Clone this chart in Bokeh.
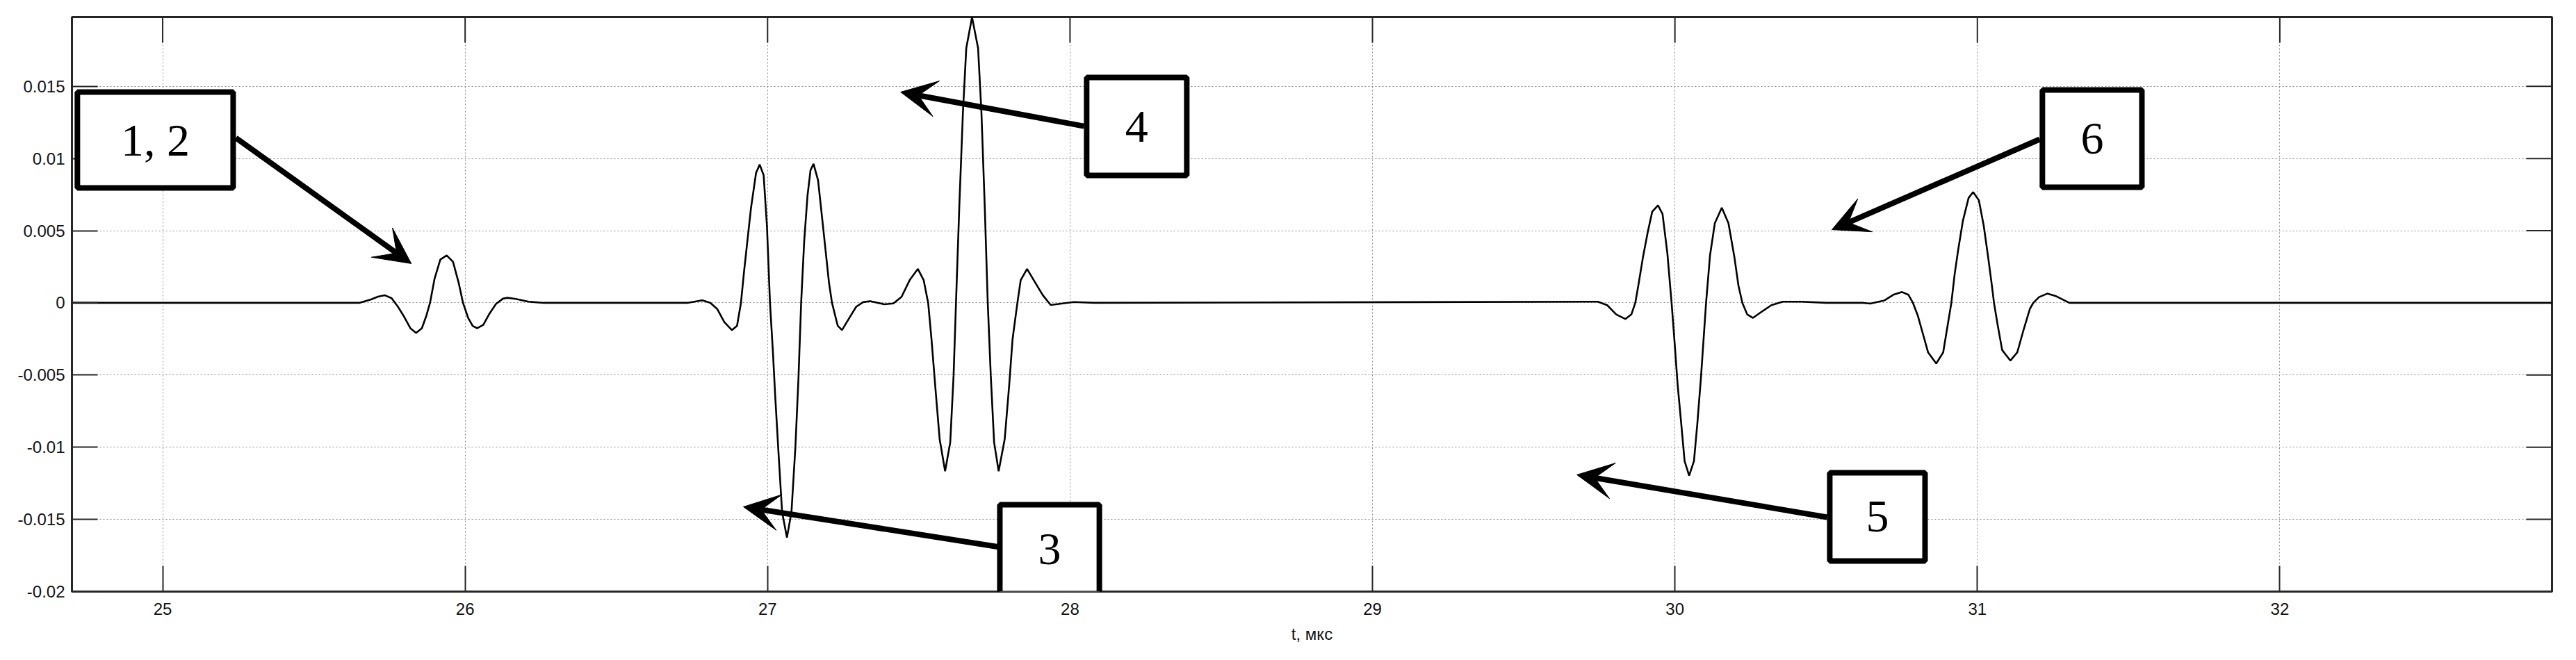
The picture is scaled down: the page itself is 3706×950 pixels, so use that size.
import math
from bokeh.plotting import figure
from bokeh.models import Range1d, FixedTicker, Arrow, VeeHead, BoxAnnotation, Label
from bokeh.core.properties import value
from bokeh.embed import file_html
from bokeh.resources import INLINE

# ---------------- data ----------------
# time, us  /  amplitude
t_edges = [24.70, 32.90]

t_p12 = [25.482, 25.650, 25.689, 25.712, 25.734, 25.757, 25.777, 25.796, 25.819, 25.838,
         25.857, 25.872, 25.884, 25.899, 25.918, 25.939, 25.960, 25.979, 25.993, 26.010,
         26.025, 26.040, 26.060, 26.079, 26.102, 26.125, 26.140, 26.167, 26.210, 26.260]
a_p12 = [0.0, 0.0, 0.00024, 0.00043, 0.00053, 0.00032, -0.00024, -0.00088, -0.00176, -0.00208,
         -0.00176, -0.00088, 0.0, 0.00168, 0.00300, 0.00329, 0.00284, 0.00136, 0.0, -0.00104,
         -0.00160, -0.00176, -0.00152, -0.00080, -0.00008, 0.00029, 0.00035, 0.00027, 0.00008, 0.0]

t_p34 = [26.735, 26.784, 26.811, 26.834, 26.857, 26.882, 26.899, 26.912, 26.922, 26.933,
         26.945, 26.962, 26.974, 26.987, 26.998, 27.008, 27.018, 27.025, 27.035, 27.048,
         27.064, 27.079, 27.092, 27.102, 27.111, 27.121, 27.132, 27.142, 27.152, 27.167,
         27.186, 27.203, 27.213, 27.232, 27.246, 27.270, 27.293, 27.316, 27.339, 27.386,
         27.416, 27.443, 27.470, 27.497, 27.516, 27.531, 27.542, 27.554, 27.569, 27.587,
         27.604, 27.615, 27.623, 27.634, 27.646, 27.657, 27.676, 27.696, 27.707, 27.718,
         27.728, 27.738, 27.749, 27.764, 27.784, 27.799, 27.810, 27.826, 27.837, 27.858,
         27.883, 27.910, 27.936, 27.967, 28.013, 28.080]
a_p34 = [0.0, 0.00018, 0.0, -0.00044, -0.00133, -0.00189, -0.00159, 0.0, 0.00212, 0.00424,
         0.00654, 0.00901, 0.00958, 0.00884, 0.00530, 0.0, -0.00353, -0.00636, -0.00998, -0.01449,
         -0.01626, -0.01449, -0.00998, -0.00530, 0.0, 0.00424, 0.00742, 0.00919, 0.00963, 0.00848,
         0.00477, 0.00141, 0.0, -0.00159, -0.00189, -0.00106, -0.00027, 0.00005, 0.00012, -0.00010,
         -0.00004, 0.00042, 0.00158, 0.00235, 0.00158, 0.0, -0.00252, -0.00567, -0.00945, -0.01166,
         -0.00966, -0.00504, 0.0, 0.00672, 0.01324, 0.01765, 0.01979, 0.01765, 0.01324, 0.00672,
         0.0, -0.00504, -0.00966, -0.01166, -0.00945, -0.00567, -0.00252, 0.0, 0.00158, 0.00235,
         0.00147, 0.00053, -0.00015, -0.00006, 0.00006, 0.0]

t_p5 = [29.745, 29.776, 29.806, 29.836, 29.856, 29.869, 29.879, 29.894, 29.910, 29.925,
        29.944, 29.959, 29.975, 29.989, 29.998, 30.009, 30.021, 30.032, 30.047, 30.063,
        30.074, 30.086, 30.103, 30.116, 30.132, 30.155, 30.177, 30.197, 30.210, 30.223,
        30.239, 30.258, 30.285, 30.319, 30.357, 30.418, 30.500]
a_p5 = [0.00008, -0.00016, -0.00080, -0.00112, -0.00080, 0.0, 0.00120, 0.00312, 0.00488, 0.00632,
        0.00675, 0.00616, 0.00344, 0.0, -0.00248, -0.00568, -0.00840, -0.01096, -0.01197, -0.01096,
        -0.00840, -0.00520, 0.0, 0.00328, 0.00552, 0.00659, 0.00552, 0.00312, 0.00120, 0.0,
        -0.00080, -0.00104, -0.00064, -0.00016, 0.00008, 0.00008, 0.0]

t_p6 = [30.623, 30.646, 30.692, 30.722, 30.751, 30.772, 30.787, 30.803, 30.818, 30.837,
        30.864, 30.887, 30.902, 30.914, 30.925, 30.936, 30.952, 30.971, 30.986, 31.005,
        31.021, 31.036, 31.047, 31.055, 31.067, 31.082, 31.109, 31.132, 31.151, 31.174,
        31.185, 31.204, 31.231, 31.258, 31.304, 31.441]
a_p6 = [0.0, -0.00005, 0.00016, 0.00056, 0.00075, 0.00056, 0.0, -0.00088, -0.00200, -0.00343,
        -0.00420, -0.00343, -0.00152, 0.0, 0.00200, 0.00359, 0.00567, 0.00727, 0.00767, 0.00711,
        0.00535, 0.00311, 0.00136, 0.0, -0.00152, -0.00327, -0.00400, -0.00343, -0.00200, -0.00040,
        0.0, 0.00040, 0.00064, 0.00048, 0.0, 0.0]

x_ticks = [25, 26, 27, 28, 29, 30, 31, 32]
y_ticks = [-0.02, -0.015, -0.01, -0.005, 0, 0.005, 0.01, 0.015]
y_tick_labels = ["-0.02", "-0.015", "-0.01", "-0.005", "0", "0.005", "0.01", "0.015"]
x_label = "t, мкс"
callout_texts = ["1, 2", "4", "3", "5", "6"]

# ---------------- figure ----------------
X0, X1 = 24.7, 32.9
Y0, Y1 = -0.02, 0.0198

t_all = [t_edges[0]] + t_p12 + t_p34 + t_p5 + t_p6 + [t_edges[1]]
a_all = [0.0] + a_p12 + a_p34 + a_p5 + a_p6 + [0.0]

p = figure(width=3690, height=942, x_range=Range1d(X0, X1), y_range=Range1d(Y0, Y1),
           output_backend="svg", toolbar_location=None,
           min_border_left=103, min_border_right=19, min_border_top=24, min_border_bottom=91)
p.background_fill_color = "white"
p.border_fill_color = "white"
p.outline_line_color = "#262626"
p.outline_line_width = 3
p.outline_line_alpha = 1

AX = "#262626"
TICK_LEN = 37

xt = FixedTicker(ticks=x_ticks)
yt = FixedTicker(ticks=y_ticks)

for ax in (p.xaxis[0], p.yaxis[0]):
    ax.axis_line_color = AX
    ax.axis_line_width = 3
    ax.major_tick_in = TICK_LEN
    ax.major_tick_out = 0
    ax.major_tick_line_color = AX
    ax.major_tick_line_width = 2
    ax.minor_tick_line_color = None
    ax.major_label_text_font = "Liberation Sans"
    ax.major_label_text_font_size = "24px"
    ax.major_label_text_color = "#111111"

p.xaxis.ticker = xt
p.yaxis.ticker = yt
p.xaxis.major_label_overrides = {v: str(v) for v in x_ticks}
p.yaxis.major_label_overrides = dict(zip(y_ticks, y_tick_labels))
p.xaxis.major_label_standoff = 16
p.yaxis.major_label_standoff = 10
p.xaxis.axis_label = x_label
p.xaxis.axis_label_text_font = "Liberation Sans"
p.xaxis.axis_label_text_font_size = "24px"
p.xaxis.axis_label_text_font_style = "normal"
p.xaxis.axis_label_text_color = "#111111"
p.xaxis.axis_label_standoff = 11

# inward ticks on the top and right edges of the box
p.ray(x=x_ticks, y=[Y1] * len(x_ticks), length=TICK_LEN, length_units="screen",
      angle=-math.pi / 2, line_color=AX, line_width=2)
p.ray(x=[X1] * len(y_ticks), y=y_ticks, length=TICK_LEN, length_units="screen",
      angle=math.pi, line_color=AX, line_width=2)

p.xgrid.ticker = xt
p.ygrid.ticker = yt
p.grid.grid_line_color = "#8a8a8a"
p.grid.grid_line_dash = "2 3"
p.grid.grid_line_width = 1

# signal
p.line(t_all, a_all, line_color="black", line_width=2.6)

# callout boxes (left, right, top, bottom in data units)
boxes = [
    (24.718, 25.233, 0.01460, 0.00796),
    (28.055, 28.386, 0.01561, 0.00883),
    (27.768, 28.097, -0.01398, -0.02015),
    (30.512, 30.827, -0.01177, -0.01788),
    (31.215, 31.544, 0.01475, 0.00801),
]
for (l, r, t, b) in boxes:
    p.add_layout(BoxAnnotation(left=l, right=r, top=t, bottom=b,
                               fill_color="white", fill_alpha=1.0,
                               line_color="black", line_alpha=1.0, line_width=8))
for (l, r, t, b), txt in zip(boxes, callout_texts):
    p.add_layout(Label(x=(l + r) / 2, y=(t + b) / 2, text=txt,
                       text_font="Liberation Serif", text_font_size="66px",
                       text_align="center", text_baseline="middle", text_color="black"))

# arrows: (x_start, y_start, x_end, y_end)
arrows = [
    (25.242, 0.01143, 25.822, 0.00272),
    (28.046, 0.01224, 27.440, 0.01460),
    (27.768, -0.01692, 26.920, -0.01413),
    (30.503, -0.01485, 29.676, -0.01191),
    (31.206, 0.01133, 30.519, 0.00507),
]
for xs, ys, xe, ye in arrows:
    p.add_layout(Arrow(end=VeeHead(size=52, fill_color="black", line_color="black", line_width=1),
                       x_start=xs, y_start=ys, x_end=xe, y_end=ye,
                       line_color="black", line_width=8))

open("out.html", "w").write(file_html(p, INLINE))
